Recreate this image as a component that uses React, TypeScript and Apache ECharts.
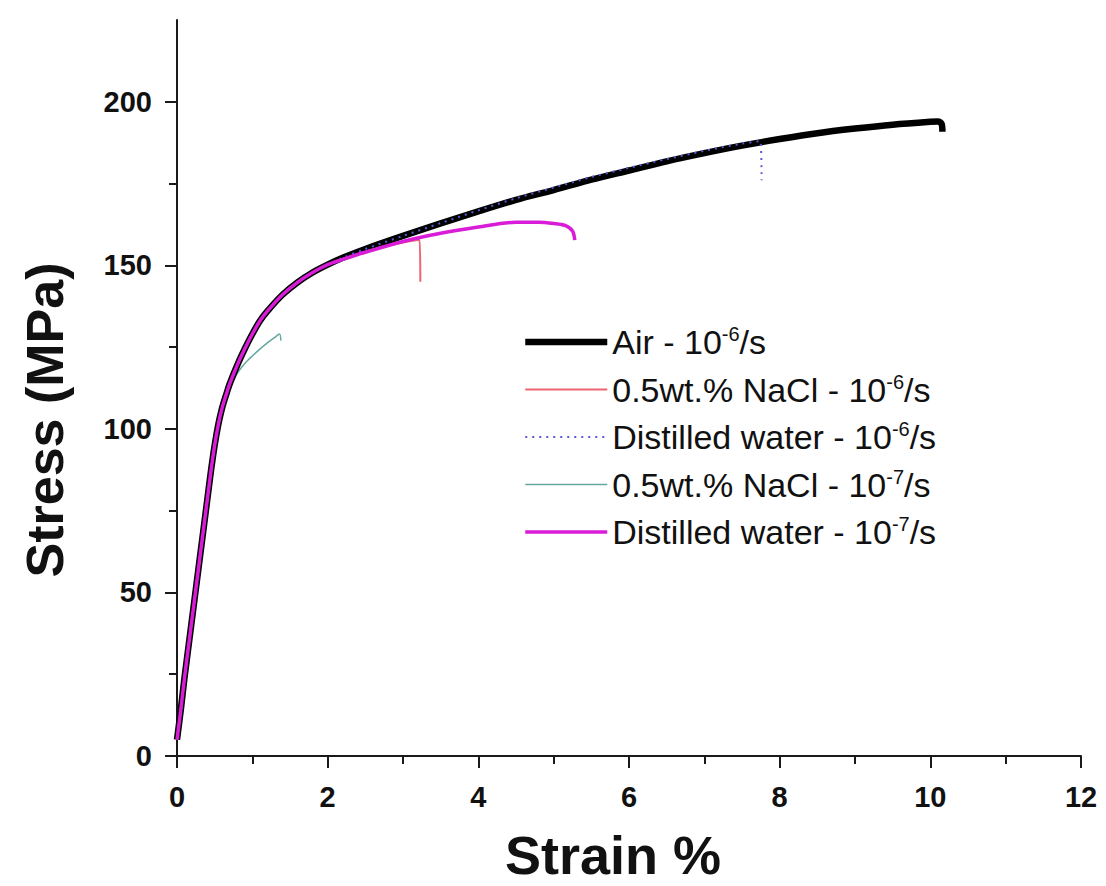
import React, { useEffect, useRef } from "react";
import * as echarts from "echarts";

const FONT = "'Liberation Sans', Arial, Helvetica, sans-serif";

// x tick labels 0..12 step 2, y tick labels 0..200 step 50
const xTicks = [0, 2, 4, 6, 8, 10, 12];
const yMajorTicks = [0, 50, 100, 150, 200];
const yMinorTicks = [25, 75, 125, 175];

// Air - 10^-6/s
const strainAir = [0, 0.05, 0.1, 0.2, 0.3, 0.4, 0.45, 0.5, 0.55, 0.6, 0.66, 0.7, 0.8, 0.9, 1.0, 1.1, 1.2, 1.4, 1.6, 1.8, 2.0, 2.2, 2.5, 3.0, 3.5, 4.0, 4.5, 5.0, 5.5, 6.0, 6.5, 7.0, 7.5, 8.0, 8.5, 9.0, 9.5, 10.0, 10.1, 10.15, 10.16];
const stressAir = [5, 14, 24, 42, 60, 78, 87, 95, 101.5, 106.5, 111, 113.8, 119.5, 124.5, 129, 133, 136, 141, 144.8, 147.8, 150.2, 152.3, 155, 159, 162.8, 166.5, 170, 173, 176.2, 179, 181.8, 184.3, 186.6, 188.6, 190.4, 191.8, 193, 193.9, 194, 193.2, 190.8];

// 0.5wt.% NaCl - 10^-6/s
const strainNaCl6 = [0, 0.05, 0.1, 0.2, 0.3, 0.4, 0.45, 0.5, 0.55, 0.6, 0.66, 0.7, 0.8, 0.9, 1.0, 1.1, 1.2, 1.4, 1.6, 1.8, 2.0, 2.2, 2.5, 2.8, 3.0, 3.15, 3.22, 3.23];
const stressNaCl6 = [5, 14, 24, 42, 60, 78, 87, 95, 101.5, 106.5, 111, 113.8, 119.5, 124.5, 129, 133, 136, 141, 144.8, 147.8, 150.2, 152, 154.2, 156, 157, 157.6, 157.8, 145];

// Distilled water - 10^-6/s
const strainDW6 = [0, 0.05, 0.1, 0.2, 0.3, 0.4, 0.45, 0.5, 0.55, 0.6, 0.66, 0.7, 0.8, 0.9, 1.0, 1.1, 1.2, 1.4, 1.6, 1.8, 2.0, 2.2, 2.5, 3.0, 3.5, 4.0, 4.5, 5.0, 5.5, 6.0, 6.5, 7.0, 7.5, 7.74, 7.76];
const stressDW6 = [5, 14, 24, 42, 60, 78, 87, 95, 101.5, 106.5, 111, 113.8, 119.5, 124.5, 129, 133, 136, 141, 144.8, 147.8, 150.2, 152.3, 155, 159, 162.9, 166.8, 170.5, 173.8, 177, 179.8, 182.5, 185, 187.2, 188, 176];

// 0.5wt.% NaCl - 10^-7/s
const strainNaCl7 = [0, 0.05, 0.1, 0.2, 0.3, 0.4, 0.45, 0.5, 0.55, 0.6, 0.7, 0.8, 0.9, 1.0, 1.1, 1.2, 1.3, 1.36, 1.38];
const stressNaCl7 = [5, 14, 24, 42, 60, 78, 87, 95, 101.5, 106.3, 112.5, 117, 120, 122.3, 124.4, 126.3, 128, 129, 127];

// Distilled water - 10^-7/s
const strainDW7 = [0, 0.05, 0.1, 0.2, 0.3, 0.4, 0.45, 0.5, 0.55, 0.6, 0.66, 0.7, 0.8, 0.9, 1.0, 1.1, 1.2, 1.4, 1.6, 1.8, 2.0, 2.2, 2.5, 3.0, 3.5, 4.0, 4.5, 4.8, 5.0, 5.15, 5.25, 5.28];
const stressDW7 = [5, 14, 24, 42, 60, 78, 87, 95, 101.5, 106.5, 111, 113.8, 119.5, 124.5, 129, 133, 136, 141, 144.8, 147.8, 150.2, 151.8, 154, 157.3, 159.8, 161.7, 163.2, 163.2, 162.8, 162.2, 160.5, 157.7];

const legendLabels = [
  { base: "Air - 10", exp: "-6", unit: "/s" },
  { base: "0.5wt.% NaCl - 10", exp: "-6", unit: "/s" },
  { base: "Distilled water - 10", exp: "-6", unit: "/s" },
  { base: "0.5wt.% NaCl - 10", exp: "-7", unit: "/s" },
  { base: "Distilled water - 10", exp: "-7", unit: "/s" },
];
const seriesNames = legendLabels.map((l) => l.base + l.exp + l.unit);

const pairs = (xs: number[], ys: number[]) => xs.map((x, i) => [x, ys[i]]);

export default function App() {
  const ref = useRef<HTMLDivElement>(null);
  useEffect(() => {
    if (!ref.current) return;
    const chart = echarts.init(ref.current, null, { renderer: "svg" });
    const axisColor = "#1a1a1a";
    const labelStyle = { fontFamily: FONT, fontWeight: "bold" as const, fontSize: 29, color: "#111" };
    const styles = [
      { color: "#000000", width: 6.5, type: "solid" as any, z: 2 },
      { color: "#ee6470", width: 2, type: "solid" as any, z: 3 },
      { color: "#5a5ad8", width: 2, type: [2, 5] as any, z: 4 },
      { color: "#63a89e", width: 1.5, type: "solid" as any, z: 1 },
      { color: "#d81cd8", width: 3.5, type: "solid" as any, z: 5 },
    ];
    const lineSeries = (i: number, xs: number[], ys: number[]) => ({
      name: seriesNames[i],
      type: "line",
      data: pairs(xs, ys),
      showSymbol: false,
      symbol: "none",
      smooth: 0.3,
      lineStyle: { color: styles[i].color, width: styles[i].width, type: styles[i].type },
      itemStyle: { color: styles[i].color },
      z: styles[i].z,
    });
    chart.setOption({
      animation: false,
      backgroundColor: "#ffffff",
      grid: { left: 177, right: 25, top: 20, bottom: 130, containLabel: false },
      xAxis: {
        type: "value",
        min: 0,
        max: 12,
        interval: 2,
        axisLine: { show: true, lineStyle: { color: axisColor, width: 2 } },
        axisTick: { show: true, inside: false, length: 12, lineStyle: { color: axisColor, width: 2 } },
        minorTick: { show: true, splitNumber: 2, length: 8, lineStyle: { color: axisColor, width: 2 } },
        splitLine: { show: false },
        axisLabel: { ...labelStyle, margin: 26, customValues: xTicks },
      },
      yAxis: [
        {
          type: "value",
          min: 0,
          max: 225,
          interval: 50,
          position: "left",
          axisLine: { show: true, lineStyle: { color: axisColor, width: 2 } },
          axisTick: { show: true, inside: false, length: 12, customValues: yMajorTicks, lineStyle: { color: axisColor, width: 2 } },
          splitLine: { show: false },
          axisLabel: { ...labelStyle, margin: 25, customValues: yMajorTicks },
        },
        {
          type: "value",
          min: 0,
          max: 225,
          interval: 25,
          position: "left",
          axisLine: { show: false },
          axisTick: { show: true, inside: false, length: 8, customValues: yMinorTicks, lineStyle: { color: axisColor, width: 2 } },
          splitLine: { show: false },
          axisLabel: { show: false },
        },
      ],
      legend: {
        show: true,
        orient: "vertical",
        left: 517,
        top: 319,
        itemWidth: 82,
        itemHeight: 14,
        itemGap: 12.5,
        data: seriesNames.map((name, i) => ({
          name,
          lineStyle: { color: styles[i].color, width: styles[i].width, type: styles[i].type },
        })),
        itemStyle: { opacity: 0 },
        formatter: (name: string) => {
          const l = legendLabels[seriesNames.indexOf(name)];
          return `{t|${l.base}}{s|${l.exp}}{t|${l.unit}}`;
        },
        textStyle: {
          fontFamily: FONT,
          color: "#111",
          rich: {
            t: { fontFamily: FONT, fontSize: 34, lineHeight: 36, color: "#111" },
            s: { fontFamily: FONT, fontSize: 20, lineHeight: 18, verticalAlign: "top", color: "#111" },
          },
        },
      },
      graphic: [
        {
          type: "text",
          x: 45,
          y: 420,
          rotation: Math.PI / 2,
          style: {
            text: "Stress (MPa)",
            fontFamily: FONT,
            fontWeight: "bold",
            fontSize: 52,
            fill: "#111",
            align: "center",
            verticalAlign: "middle",
          },
        },
        {
          type: "text",
          x: 613,
          y: 855,
          style: {
            text: "Strain %",
            fontFamily: FONT,
            fontWeight: "bold",
            fontSize: 54,
            fill: "#111",
            align: "center",
            verticalAlign: "middle",
          },
        },
      ],
      series: [
        lineSeries(0, strainAir, stressAir),
        lineSeries(1, strainNaCl6, stressNaCl6),
        lineSeries(2, strainDW6, stressDW6),
        lineSeries(3, strainNaCl7, stressNaCl7),
        lineSeries(4, strainDW7, stressDW7),
      ],
    });
    return () => chart.dispose();
  }, []);
  return (
    <div
      ref={ref}
      style={{ position: "fixed", left: 0, top: 0, width: 1106, height: 886, background: "#fff" }}
    />
  );
}
